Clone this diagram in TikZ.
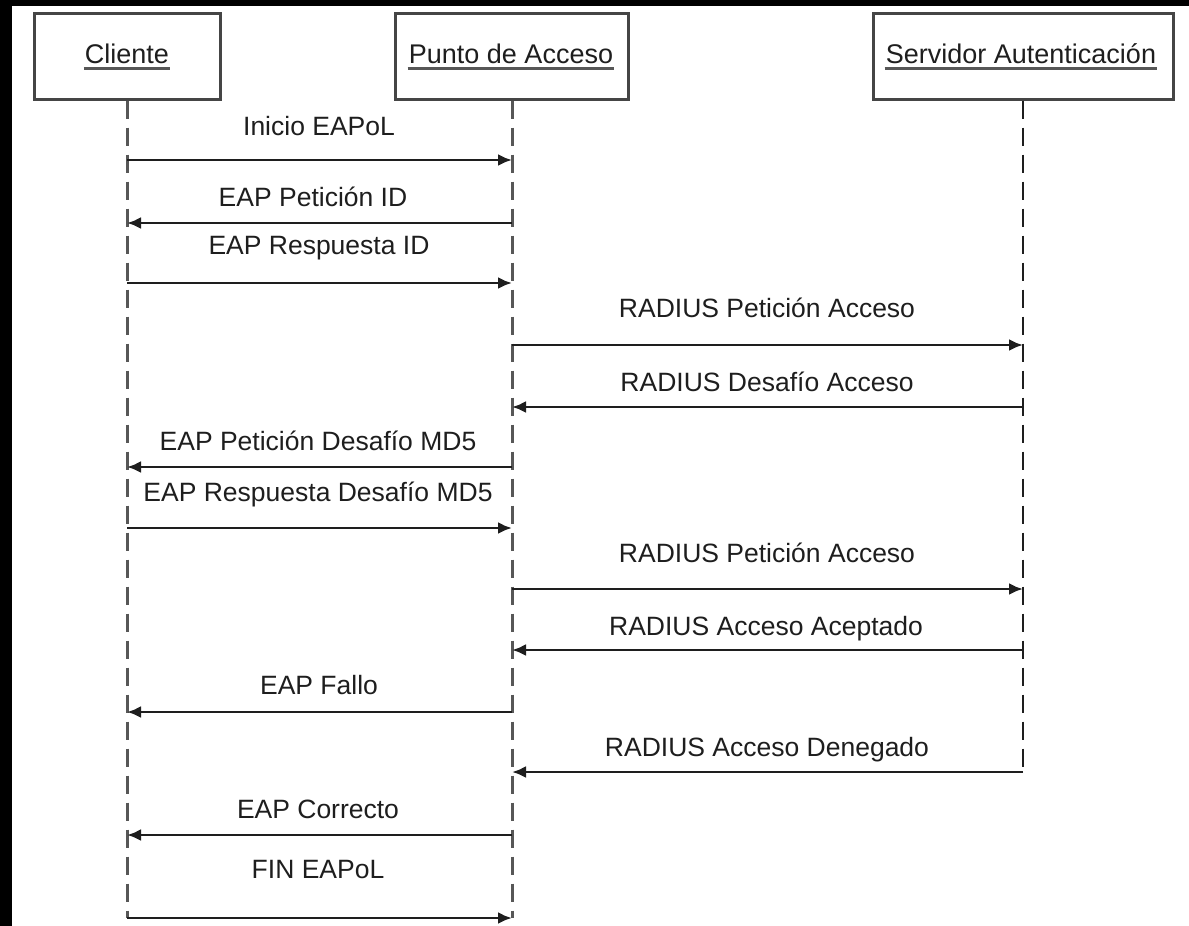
\documentclass[tikz,border=0pt]{standalone}
\usepackage{fontspec}
\setmainfont{Liberation Sans}
\usetikzlibrary{arrows.meta}
\definecolor{ink}{HTML}{1E1E1E}
\definecolor{boxline}{HTML}{454545}
\definecolor{life}{HTML}{575757}
\begin{document}
\begin{tikzpicture}[x=1pt,y=-1pt,
  actor/.style={draw=boxline,line width=3pt,fill=white,minimum height=86pt,inner sep=0pt},
  hdr/.style={text=ink,font=\fontsize{27}{32}\selectfont,anchor=base,inner sep=0pt},
  uline/.style={life,line width=3pt},
  lifeline/.style={life,line width=3pt,dash pattern=on 18pt off 9pt},
  thinlife/.style={ink,line width=1.8pt,dash pattern=on 18pt off 9pt},
  msg/.style={ink,line width=2.8pt,-{Latex[length=14pt,width=12pt]}},
  lbl/.style={text=ink,font=\fontsize{26.5}{31}\selectfont,anchor=base,inner sep=0pt}]
\useasboundingbox (0,0) rectangle (1189,926);
\fill[white] (0,0) rectangle (1189,926);
\fill[black] (0,0) rectangle (1189,6);
\fill[black] (0,0) rectangle (12,926);

% participants
\node[actor,minimum width=186pt] (cl) at (127,56) {};
\node[actor,minimum width=233pt] (ap) at (512,56) {};
\node[actor,minimum width=300pt] (srv) at (1023,56) {};
\node[hdr] (tcl) at (127,63) {Cliente};
\node[hdr] (tap) at (511,63) {Punto de Acceso};
\node[hdr] (tsrv) at (1021,63) {Servidor Autenticación};
\foreach \t in {tcl,tap,tsrv}
  \draw[uline] ([xshift=-1pt,yshift=-5.5pt]\t.base west) -- ([xshift=1pt,yshift=-5.5pt]\t.base east);

% lifelines
\coordinate (clend) at (127,918);
\coordinate (apend) at (512,918);
\coordinate (srvend) at (1023,772);
\draw[lifeline] (cl.south) -- (clend);
\draw[lifeline] (ap.south) -- (apend);
\draw[thinlife] (srv.south) -- (srvend);

% messages
\node[lbl] (l1) at (319,135) {Inicio EAPoL};
\draw[msg] (cl |- 0,160) -- (ap |- 0,160);
\node[lbl] (l2) at (313,206) {EAP Petición ID};
\draw[msg] (ap |- 0,223) -- (cl |- 0,223);
\node[lbl] (l3) at (319,254) {EAP Respuesta ID};
\draw[msg] (cl |- 0,283) -- (ap |- 0,283);
\node[lbl] (l4) at (767,317) {RADIUS Petición Acceso};
\draw[msg] (ap |- 0,345) -- (srv |- 0,345);
\node[lbl] (l5) at (767,391) {RADIUS Desafío Acceso};
\draw[msg] (srv |- 0,407) -- (ap |- 0,407);
\node[lbl] (l6) at (318,450) {EAP Petición Desafío MD5};
\draw[msg] (ap |- 0,467) -- (cl |- 0,467);
\node[lbl] (l7) at (318,501) {EAP Respuesta Desafío MD5};
\draw[msg] (cl |- 0,528) -- (ap |- 0,528);
\node[lbl] (l8) at (767,562) {RADIUS Petición Acceso};
\draw[msg] (ap |- 0,589) -- (srv |- 0,589);
\node[lbl] (l9) at (766,635) {RADIUS Acceso Aceptado};
\draw[msg] (srv |- 0,650) -- (ap |- 0,650);
\node[lbl] (l10) at (319,694) {EAP Fallo};
\draw[msg] (ap |- 0,712) -- (cl |- 0,712);
\node[lbl] (l11) at (767,756) {RADIUS Acceso Denegado};
\draw[msg] (srv |- 0,772) -- (ap |- 0,772);
\node[lbl] (l12) at (318,818) {EAP Correcto};
\draw[msg] (ap |- 0,835) -- (cl |- 0,835);
\node[lbl] (l13) at (318,878) {FIN EAPoL};
\draw[msg] (cl |- 0,918) -- (ap |- 0,918);
\end{tikzpicture}
\end{document}
